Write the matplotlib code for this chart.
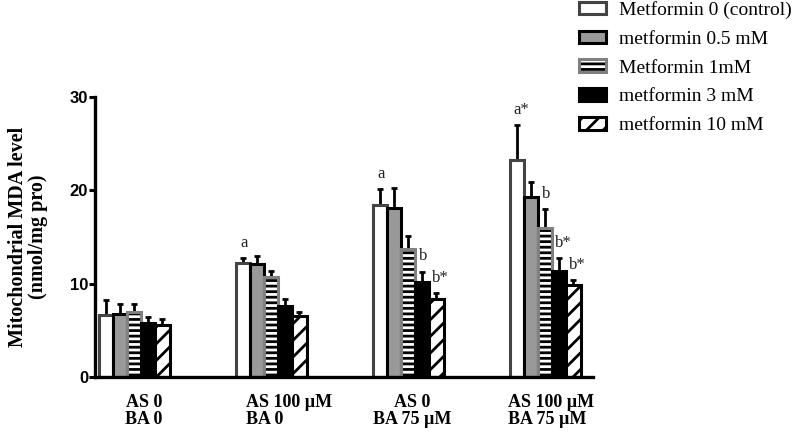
import matplotlib
matplotlib.use("Agg")
import matplotlib.pyplot as plt
from matplotlib.patches import Patch
from matplotlib.legend_handler import HandlerTuple
from matplotlib.transforms import blended_transform_factory, offset_copy
import numpy as np

groups = ["AS 0\nBA 0", "AS 100 \u00b5M\nBA 0", "AS 0\nBA 75 \u00b5M", "AS 100 \u00b5M\nBA 75 \u00b5M"]
series = ["Metformin 0 (control)", "metformin 0.5 mM", "Metformin 1mM", "metformin 3 mM", "metformin 10 mM"]

met_0 = [6.6, 12.2, 18.4, 23.3]
met_05 = [6.8, 12.1, 18.1, 19.3]
met_1 = [7.0, 10.7, 13.7, 16.0]
met_3 = [5.8, 7.6, 10.2, 11.4]
met_10 = [5.6, 6.5, 8.4, 9.9]

err_0 = [1.6, 0.5, 1.7, 3.7]
err_05 = [1.0, 0.9, 2.2, 1.6]
err_1 = [0.8, 0.7, 1.4, 2.0]
err_3 = [0.6, 0.8, 1.1, 1.3]
err_10 = [0.6, 0.5, 0.6, 0.5]

# (group, series, text)
marks = [(1, 0, "a"), (2, 0, "a"), (2, 3, "b"), (2, 4, "b*"),
         (3, 0, "a*"), (3, 2, "b"), (3, 3, "b*"), (3, 4, "b*")]

yticks = [0, 10, 20, 30]

means = [met_0, met_05, met_1, met_3, met_10]
errs = [err_0, err_05, err_1, err_3, err_10]

# face, edge, hatch
styles = [("white", "#444444", None),
          ("#999999", "black", None),
          ("white", "#808080", "---"),
          ("black", "black", None),
          ("white", "black", "//")]

plt.rcParams["hatch.linewidth"] = 2.0

fig = plt.figure(figsize=(7.98, 4.32), dpi=100)
ax = fig.add_axes([95/798, 1-377/432, 498/798, 280/432])

w = 0.1036
xg = np.arange(len(groups))
lw = 2.2

handles = []
for i in range(5):
    face, edge, hatch = styles[i]
    x = xg + (i - 2) * w
    if hatch is not None and edge != "black":
        ax.bar(x, means[i], w, color=face, edgecolor="black", hatch=hatch, linewidth=0, zorder=2)
        ax.bar(x, means[i], w, fill=False, edgecolor=edge, linewidth=lw, zorder=2)
        h = (Patch(facecolor=face, edgecolor="black", hatch=hatch, linewidth=0),
             Patch(fill=False, edgecolor=edge, linewidth=lw))
    else:
        ax.bar(x, means[i], w, color=face, edgecolor=edge, hatch=hatch, linewidth=lw, zorder=2)
        h = Patch(facecolor=face, edgecolor=edge, hatch=hatch, linewidth=lw)
    ax.errorbar(x, means[i], yerr=[np.zeros(len(groups)), errs[i]], fmt="none",
                ecolor="black", elinewidth=2, capsize=2.5, capthick=2, zorder=1)
    handles.append(h)

for g, s, t in marks:
    x = xg[g] + (s - 2) * w
    y = means[s][g] + errs[s][g]
    ax.annotate(t, (x, y), xytext=(3 if "*" in t else 1, 11), textcoords="offset points",
                ha="center", va="center", fontsize=12, family="Liberation Serif", color="#222222")

ax.set_xlim(-0.285, 3.35)
ax.set_ylim(0, 30)
ax.set_yticks(yticks)
ax.set_yticklabels([str(v) for v in yticks], fontsize=12, fontweight="bold", family="Liberation Sans")
ax.set_xticks([])
for sp in ["top", "right"]:
    ax.spines[sp].set_visible(False)
for sp in ["left", "bottom"]:
    ax.spines[sp].set_linewidth(2.4)
ax.tick_params(axis="y", length=4, width=2.2, pad=1)

ax.set_ylabel("Mitochondrial MDA level\n(nmol/mg pro)", fontsize=14.5, fontweight="bold",
              family="Liberation Serif", linespacing=1.0)
ax.yaxis.set_label_coords(-0.095, 0.5)

trans = blended_transform_factory(ax.transData, ax.transAxes)
dx = [10, 18, 4, 6]
malign = ["center", "left", "center", "left"]
for k, lab in enumerate(groups):
    t = offset_copy(trans, fig=fig, x=dx[k], y=0, units="dots")
    ax.text(xg[k], -0.06, lab, transform=t, ha="center", va="top", multialignment=malign[k],
            fontsize=13, fontweight="bold", family="Liberation Serif", linespacing=1.05)

fig.legend(handles, series, loc="upper left", bbox_to_anchor=(578/798, 1.0), frameon=False,
           prop={"family": "Liberation Serif", "size": 14}, handlelength=1.4, handleheight=0.62,
           handletextpad=0.68, labelspacing=0.6, borderaxespad=0, borderpad=0.05,
           handler_map={tuple: HandlerTuple(ndivide=1)})

fig.savefig("out.png", dpi=100)
